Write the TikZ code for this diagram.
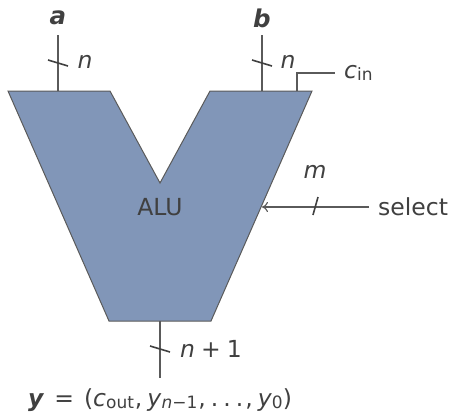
\documentclass[tikz,border=0pt]{standalone}
\usepackage{fontspec}
\setmainfont{DejaVu Sans}
\usetikzlibrary{arrows.meta,positioning}
\definecolor{alufill}{HTML}{8196B8}
\definecolor{labelgray}{HTML}{404040}
\definecolor{wiregray}{HTML}{5A5A5A}
\newcommand{\subt}[1]{\raisebox{-0.2ex}{\fontsize{17}{20}\selectfont #1}}
\tikzset{
  label/.style={text=labelgray,inner sep=0pt,font=\fontsize{23.5}{28}\selectfont},
  wire/.style={draw=wiregray,line width=1.1pt},
  slash/.style={draw=labelgray,line width=1.6pt},
}

\begin{document}
\begin{tikzpicture}[x=1pt,y=-1pt]
\useasboundingbox (0,0) rectangle (451,413);

\coordinate (TL) at (8,91);
\coordinate (TM) at (110,91);
\coordinate (NK) at (160,183);
\coordinate (TN) at (210,91);
\coordinate (TR) at (312,91);
\coordinate (BR) at (211,321);
\coordinate (BL) at (109,321);
\filldraw[fill=alufill,draw=wiregray,line width=1pt] (TL) -- (TM) -- (NK) -- (TN) -- (TR) -- (BR) -- (BL) -- cycle;
\node (ALU) [label] at (160,207) {ALU};

\coordinate (AIN) at (58,91);
\coordinate (BIN) at (262,91);
\coordinate (CIN) at (297,91);
\coordinate (OUT) at (160,321);
\coordinate (SEL) at (262,207);

\node (A) [label,font=\fontsize{24.5}{28}\selectfont\bfseries\itshape] at (58,18) {a};
\node (B) [label,font=\fontsize{24.5}{28}\selectfont\bfseries\itshape] at (262,18) {b};
\node (NA) [label,font=\fontsize{23.5}{28}\selectfont\itshape] at (85,62) {n};
\node (NB) [label,font=\fontsize{23.5}{28}\selectfont\itshape] at (288,62) {n};
\node (M) [label,font=\fontsize{23.5}{28}\selectfont\itshape] at (315,172) {m};
\node (C) [label,anchor=west] at (344,73) {\textit{c}\subt{in}};
\node (S) [label,anchor=west] at (378,207) {select};
\node (N1) [label,anchor=west] at (180,349) {\textit{n}\hspace{6pt}+\hspace{6pt}1};
\node (Y) [label,anchor=base west] at (28,406) {\textbf{\textit{y}}\hspace{10pt}=\hspace{10pt}(\textit{c}\subt{out}\hspace{1pt},\hspace{5pt}\textit{y}\subt{\textit{n}−1}\hspace{1pt},\hspace{5pt}.\hspace{5pt}.\hspace{5pt}.\hspace{2pt},\hspace{5pt}\textit{y}\subt{0})};

\draw[wire] (A.south |- 0,35) -- (AIN);
\draw[wire] (B.south |- 0,35) -- (BIN);
\draw[wire] (OUT) -- (160,378);
\draw[wire] (CIN) |- ([xshift=-9pt]C.west);
\draw[wire,-{To[length=6pt,width=10pt]}] ([xshift=-9pt]S.west) -- (SEL);

\foreach \x/\y in {58/63,262/63,160/349}
  \draw[slash] (\x-10,\y-3) -- (\x+10,\y+3);
\draw[slash] (318,197) -- (313,215);
\end{tikzpicture}
\end{document}
